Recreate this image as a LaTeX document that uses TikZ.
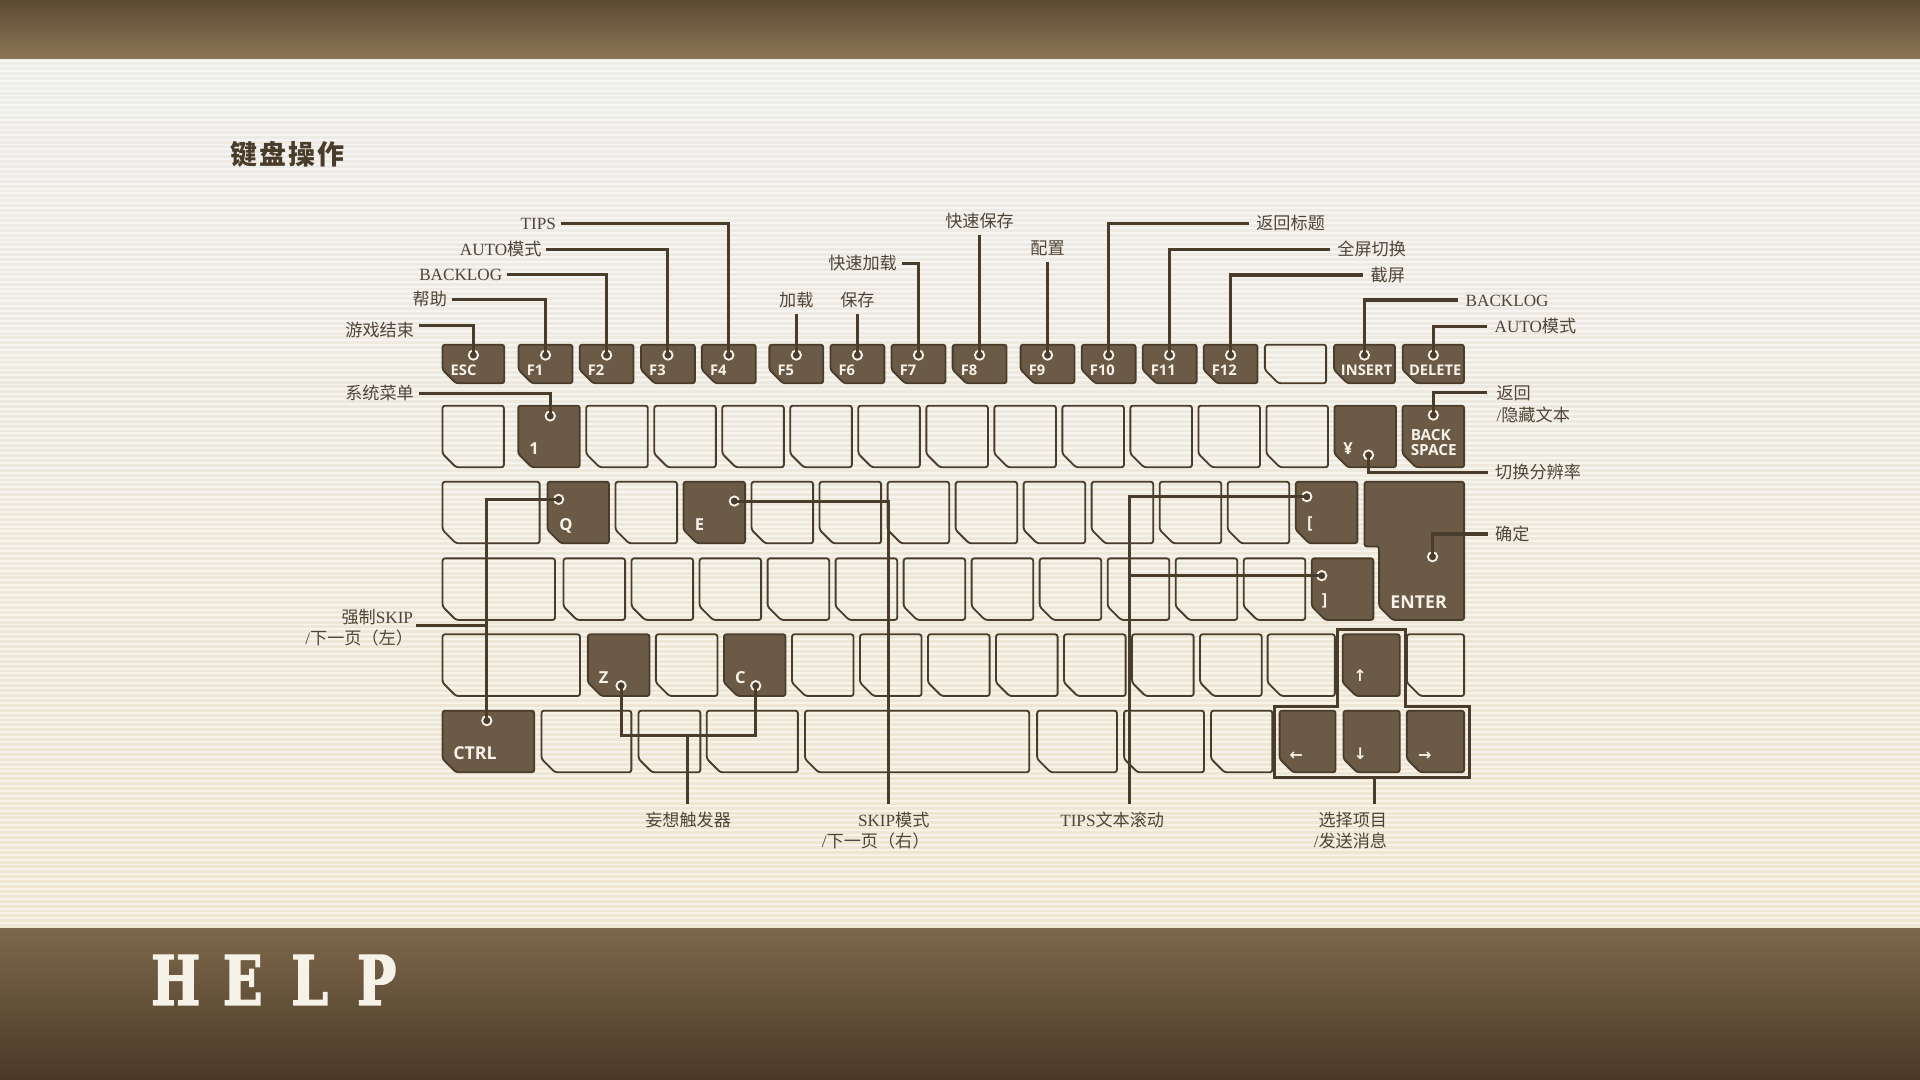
\documentclass[tikz,border=0pt]{standalone}
\usepackage{fontspec}
\setmainfont{Liberation Serif}
\newfontfamily\cjkfont{Noto Sans CJK SC}
\newfontfamily\titlefont{Noto Sans CJK SC}[LetterSpace=8]
\newfontfamily\keyfont{Open Sans}
\newfontfamily\arrowfont{DejaVu Sans}
\newfontfamily\helpfont{DejaVu Serif}[FakeStretch=0.76, BoldFeatures={FakeBold=2}]
\usetikzlibrary{positioning, calc, fit}
\definecolor{inkbrown}{HTML}{4A3C2B}
\definecolor{keybrown}{HTML}{6A5A46}
\definecolor{labelgray}{HTML}{4F4437}
\definecolor{keytext}{HTML}{F7F2E8}
\definecolor{papertop}{HTML}{EDECE8}
\definecolor{paperbot}{HTML}{EFE5D0}
\definecolor{banddark}{HTML}{5C4A33}
\definecolor{bandlight}{HTML}{8C7656}
\definecolor{bandmid}{HTML}{7C684B}
\definecolor{banddeep}{HTML}{4A3927}
\newcommand\zh[1]{{\cjkfont #1}}
\newcommand\lblsize{\fontsize{14}{17.5}\selectfont}
\newcommand\helpch[1]{\makebox[54.7pt]{#1}}
% key: style, name, x1, x2, y1, y2
\newcommand\kbkey[6]{%
  \coordinate (#2-a) at (#3,#5);
  \coordinate (#2-b) at (#4,#6);
  \node[keyfit, fit=(#2-a)(#2-b)] (#2) {};
  \draw[#1] (#2.north west) -- (#2.north east) -- (#2.south east)
    -- ([xshift=11pt]#2.south west) -- ([yshift=11pt]#2.south west) -- cycle;
}
\tikzset{
  keyfit/.style={rectangle, inner sep=0pt, outer sep=0pt, minimum size=0pt},
  keyline/.style={draw=inkbrown, line width=1.5pt, rounded corners=2pt},
  keydark/.style={keyline, fill=keybrown},
  ftxt/.style={font=\keyfont\bfseries\fontsize{12}{12}\selectfont, text=keytext,
               inner sep=0pt, anchor=base west},
  ktxt/.style={ftxt, font=\keyfont\bfseries\fontsize{13.5}{12}\selectfont},
  btxt/.style={ftxt, font=\keyfont\bfseries\fontsize{14.5}{12}\selectfont},
  atxt/.style={ftxt, font=\arrowfont\bfseries\fontsize{13}{12}\selectfont},
  conn/.style={draw=inkbrown, line width=2.5pt},
  dot/.style={circle, fill=inkbrown, draw=keytext, line width=1.5pt,
              minimum size=7.6pt, inner sep=0pt},
  stripe/.style={draw=white, opacity=0.55, line width=1.6pt},
  lbl/.style={font=\lblsize, text=labelgray, inner sep=2pt, text height=13pt, text depth=3pt},
  lbll/.style={lbl, anchor=east, outer xsep=2pt},
  lblr/.style={lbl, anchor=west, outer xsep=4pt},
  lblt/.style={lbl, anchor=south, outer ysep=1pt},
  lblm/.style={font=\lblsize, text=labelgray, inner sep=2pt},
  lblb/.style={lblm, anchor=north, outer ysep=4.5pt},
}
\begin{document}
\begin{tikzpicture}[x=1pt, y=-1pt]
  \useasboundingbox (0,0) rectangle (1568,882);
  % paper and bands
  \shade[top color=papertop, bottom color=paperbot] (0,48) rectangle (1568,758);
  \foreach \yy in {50,54,...,756}
    \draw[stripe] (0,\yy) -- (1568,\yy);
  \shade[top color=banddark, bottom color=bandlight] (0,0) rectangle (1568,48);
  \shade[top color=bandmid, bottom color=banddeep] (0,758) rectangle (1568,882);

  \node[font=\titlefont\bfseries\fontsize{22}{26}\selectfont, text=inkbrown, inner sep=0pt]
    (title) at (235,126) {键盘操作};
  \node[font=\helpfont\bfseries\fontsize{56}{56}\selectfont, text=keytext, inner sep=0pt,
        anchor=base] (help) at (225.6,820.7)
    {\helpch{H}\helpch{E}\helpch{L}\helpch{P}};

  % function row
  \kbkey{keydark}{esc}{361.4}{411.8}{281.5}{313}
  \node[ftxt] (esc-t) at ([xshift=6.5pt,yshift=6.5pt]esc.south west) {ESC};
  \coordinate (dESC) at ([yshift=-8.5pt]esc.north);
  \foreach \nm/\xa in {F1/423.5,F2/473.4,F3/523.5,F4/573.2,F5/628.3,F6/678.2,
                       F7/728.1,F8/778,F9/833.5,F10/883.4,F11/933.2,F12/983}{
    \pgfmathsetmacro\xb{\xa+44}
    \kbkey{keydark}{\nm}{\xa}{\xb}{281.5}{313}
    \node[ftxt] (\nm-t) at ([xshift=6.5pt,yshift=6.5pt]\nm.south west) {\nm};
    \coordinate (d\nm) at ([yshift=-8.5pt]\nm.north);
  }
  \kbkey{keyline}{fblank}{1033}{1083}{281.5}{313}
  \kbkey{keydark}{ins}{1089.4}{1139.2}{281.5}{313}
  \node[ftxt] (ins-t) at ([xshift=5.5pt,yshift=6.5pt]ins.south west) {INSERT};
  \coordinate (dINS) at ([yshift=-8.5pt]ins.north);
  \kbkey{keydark}{del}{1145.5}{1195.6}{281.5}{313}
  \node[ftxt] (del-t) at ([xshift=5pt,yshift=6.5pt]del.south west) {DELETE};
  \coordinate (dDEL) at ([yshift=-8.5pt]del.north);

  % number row
  \kbkey{keyline}{r1k0}{361.4}{411.5}{331.3}{381.6}
  \foreach \n in {2,...,12}{
    \pgfmathsetmacro\xa{423.2+(\n-1)*55.55}
    \pgfmathsetmacro\xb{\xa+50.3}
    \kbkey{keyline}{r1k\n}{\xa}{\xb}{331.3}{381.6}
  }
  \kbkey{keydark}{one}{423.2}{473.5}{331.3}{381.6}
  \node[ktxt] (one-t) at ([xshift=9pt,yshift=10.5pt]one.south west) {1};
  \coordinate (d1) at ([xshift=1pt,yshift=-8.4pt]one.north);
  \kbkey{keydark}{yen}{1089.8}{1140.1}{331.3}{381.6}
  \node[ktxt] (yen-t) at ([xshift=7pt,yshift=10.5pt]yen.south west) {¥};
  \coordinate (dYen) at ([xshift=-22.5pt,yshift=10pt]yen.south east);
  \kbkey{keydark}{bksp}{1145.4}{1195.7}{331.3}{381.6}
  \node[ftxt, anchor=south west, align=left, font=\keyfont\bfseries\fontsize{12.5}{12}\selectfont]
    (bksp-t) at ([xshift=6.5pt,yshift=9.5pt]bksp.south west) {BACK\\SPACE};
  \coordinate (dBS) at ([yshift=-7.7pt]bksp.north);

  % top letter row
  \kbkey{keyline}{tab}{361.4}{440.7}{393.4}{443.7}
  \foreach \n in {1,3,4,5,6,7,8,9,10}{
    \pgfmathsetmacro\xa{447.1+\n*55.55}
    \pgfmathsetmacro\xb{\xa+50.3}
    \kbkey{keyline}{r2k\n}{\xa}{\xb}{393.4}{443.7}
  }
  \kbkey{keydark}{kQ}{447.1}{497.4}{393.4}{443.7}
  \node[ktxt] (kQ-t) at ([xshift=9.5pt,yshift=10.5pt]kQ.south west) {Q};
  \coordinate (dQ) at ([xshift=9.1pt,yshift=-14.4pt]kQ.north west);
  \kbkey{keydark}{kE}{558.2}{608.5}{393.4}{443.7}
  \node[ktxt] (kE-t) at ([xshift=9pt,yshift=10.5pt]kE.south west) {E};
  \coordinate (dE) at ([xshift=-8.8pt,yshift=-15.8pt]kE.north east);
  \kbkey{keydark}{lbr}{1058.2}{1108.5}{393.4}{443.7}
  \node[ktxt] (lbr-t) at ([xshift=9pt,yshift=12pt]lbr.south west) {[};
  \coordinate (dLB) at ([xshift=9pt,yshift=-12.2pt]lbr.north west);
  % enter key
  \coordinate (enter-a) at (1114.3,393.4);
  \coordinate (enter-b) at (1195.7,506.3);
  \node[keyfit, fit=(enter-a)(enter-b)] (enter) {};
  \draw[keydark] (enter.north west) -- (enter.north east) -- (enter.south east)
    -- ([xshift=23pt]enter.south west) -- ([xshift=12pt,yshift=11pt]enter.south west)
    -- ([xshift=12pt,yshift=60pt]enter.south west) -- ([yshift=60pt]enter.south west) -- cycle;
  \node[btxt] (enter-t) at ([xshift=21pt,yshift=9.5pt]enter.south west) {ENTER};
  \coordinate (dEnt) at ([xshift=-25.8pt,yshift=-4.8pt]enter.east);

  % home row
  \kbkey{keyline}{caps}{361.4}{453.3}{456}{506.3}
  \foreach \n in {0,...,10}{
    \pgfmathsetmacro\xa{460.2+\n*55.55}
    \pgfmathsetmacro\xb{\xa+50.3}
    \kbkey{keyline}{r3k\n}{\xa}{\xb}{456}{506.3}
  }
  \kbkey{keydark}{rbr}{1071.3}{1121.6}{456}{506.3}
  \node[ktxt] (rbr-t) at ([xshift=8pt,yshift=12pt]rbr.south west) {]};
  \coordinate (dRB) at ([xshift=8.1pt,yshift=-14.1pt]rbr.north west);

  % bottom letter row
  \kbkey{keyline}{kshift}{361.4}{473.7}{518}{568.4}
  \foreach \n in {1,3,4,5,6,7,8,9}{
    \pgfmathsetmacro\xa{480.1+\n*55.55}
    \pgfmathsetmacro\xb{\xa+50.3}
    \kbkey{keyline}{r4k\n}{\xa}{\xb}{518}{568.4}
  }
  \kbkey{keydark}{kZ}{480.1}{530.4}{518}{568.4}
  \node[ktxt] (kZ-t) at ([xshift=8.7pt,yshift=10.5pt]kZ.south west) {Z};
  \coordinate (dZ) at ([xshift=27.1pt,yshift=8.4pt]kZ.south west);
  \kbkey{keydark}{kC}{591.2}{641.5}{518}{568.4}
  \node[ktxt] (kC-t) at ([xshift=9pt,yshift=10.5pt]kC.south west) {C};
  \coordinate (dC) at ([xshift=26pt,yshift=8.4pt]kC.south west);
  \kbkey{keyline}{r4a}{1035.2}{1090.1}{518}{568.4}
  \kbkey{keydark}{kup}{1096.5}{1143.1}{518}{568.4}
  \node[atxt] (kup-t) at ([xshift=8.5pt,yshift=12pt]kup.south west) {↑};
  \kbkey{keyline}{r4b}{1148.9}{1195.7}{518}{568.4}

  % space row
  \kbkey{keydark}{ctrl}{361.4}{436.3}{580.4}{630.7}
  \node[btxt] (ctrl-t) at ([xshift=8.6pt,yshift=10.5pt]ctrl.south west) {CTRL};
  \coordinate (dCtrl) at ([xshift=-1.3pt,yshift=-8.1pt]ctrl.north);
  \foreach \nm/\xa/\xb in {r5a/442.2/515.6, r5b/521.5/572, r5c/577.2/651.6,
                           kspace/657.4/840.5, r5d/847/912.2, r5e/918/983.3, r5f/989/1039.1}{
    \kbkey{keyline}{\nm}{\xa}{\xb}{580.4}{630.7}
  }
  \kbkey{keydark}{kleft}{1045}{1090.7}{580.4}{630.7}
  \node[atxt] (kleft-t) at ([xshift=8pt,yshift=9.5pt]kleft.south west) {←};
  \kbkey{keydark}{kdown}{1097.2}{1143.1}{580.4}{630.7}
  \node[atxt] (kdown-t) at ([xshift=8pt,yshift=10.5pt]kdown.south west) {↓};
  \kbkey{keydark}{kright}{1148.9}{1195.7}{580.4}{630.7}
  \node[atxt] (kright-t) at ([xshift=9pt,yshift=9.5pt]kright.south west) {→};

  % arrow cluster frame
  \draw[draw=inkbrown, line width=2.5pt] (1092.4,514) -- (1147.9,514) -- (1147.9,576.6)
    -- (1199.9,576.6) -- (1199.9,634.8) -- (1040.8,634.8) -- (1040.8,576.6)
    -- (1092.4,576.6) -- cycle;
  \coordinate (agrp) at ([xshift=2.2pt,yshift=-4.1pt]kdown.south);

  % labels
  \node[lbll] (tipsl) at (458,182.4) {TIPS};
  \node[lbll] (autol) at (446.2,203.4) {AUTO\zh{模式}};
  \node[lbll] (backlogl) at (414.1,223.8) {BACKLOG};
  \node[lbll] (helpl) at (369,244.5) {\zh{帮助}};
  \node[lbll] (quitl) at (342.1,270) {\zh{游戏结束}};
  \node[lbll] (menul) at (342,321.2) {\zh{系统菜单}};
  \node[lblt] (loadl) at (dF5 |- 0,256.4) {\zh{加载}};
  \node[lblt] (savel) at (dF6 |- 0,256.4) {\zh{保存}};
  \node[lbll] (qloadl) at (736.4,215) {\zh{快速加载}};
  \node[lblt] (qsavel) at (dF8 |- 0,191.9) {\zh{快速保存}};
  \node[lblt] (confl) at (dF9 |- 0,213.7) {\zh{配置}};
  \node[lblr] (rtitlel) at (1020,182.4) {\zh{返回标题}};
  \node[lblr] (fulll) at (1086.2,203.6) {\zh{全屏切换}};
  \node[lblr] (shotl) at (1113.4,224.6) {\zh{截屏}};
  \node[lblr] (backlog2l) at (1191,245) {BACKLOG};
  \node[lblr] (auto2l) at (1214.6,266.8) {AUTO\zh{模式}};
  \coordinate (hide-in) at (1214.6,320.7);
  \node[lblm, anchor=north west, align=left, font=\fontsize{14}{18}\selectfont] (hidel)
    at ([xshift=5.4pt,yshift=8.5pt]hide-in) {\zh{返回}\\/\zh{隐藏文本}};
  \node[lblr] (resl) at (1215.1,386) {\zh{切换分辨率}};
  \node[lblr] (okl) at (1215,436.1) {\zh{确定}};
  \node[lblm, anchor=east, align=right] (skipll) at (339.5,512.5)
    {\zh{强制}SKIP\\/\zh{下一页（左）}};
  \coordinate (trig-bar) at ([yshift=-40.3pt]dZ -| 561.3,0);
  \node[lblb] (trigl) at (562,656.6) {\zh{妄想触发器}};
  \coordinate (skipr-in) at (725.3,656.6);
  \node[lblb, anchor=north east, align=right] (skiprl) at ([xshift=36pt]skipr-in)
    {SKIP\zh{模式}\\/\zh{下一页（右）}};
  \coordinate (tipsr-in) at (922.5,656.6);
  \node[lblb] (tipsrl) at ([xshift=-14.2pt]tipsr-in) {TIPS\zh{文本滚动}};
  \node[lblb, anchor=north east, align=right] (sell) at (1135,656.6)
    {\zh{选择项目}\\/\zh{发送消息}};

  % connector dots, under the lines
  \foreach \d in {dESC,dF1,dF2,dF3,dF4,dF5,dF6,dF7,dF8,dF9,dF10,dF11,dF12,dINS,dDEL,
                  d1,dBS,dYen,dQ,dE,dLB,dRB,dEnt,dZ,dC,dCtrl}
    \node[dot] (\d-o) at (\d) {};

  % connectors
  \draw[conn] (tipsl.east) -| (dF4);
  \draw[conn] (autol.east) -| (dF3);
  \draw[conn] (backlogl.east) -| (dF2);
  \draw[conn] (helpl.east) -| (dF1);
  \draw[conn] ([yshift=4pt]quitl.east) -| (dESC);
  \draw[conn] (menul.east) -| (d1);
  \draw[conn] (dF5) -- (dF5 |- loadl.south);
  \draw[conn] (dF6) -- (dF6 |- savel.south);
  \draw[conn] (qloadl.east) -| (dF7);
  \draw[conn] (dF8) -- (dF8 |- qsavel.south);
  \draw[conn] (dF9) -- (dF9 |- confl.south);
  \draw[conn] (dF10) |- (rtitlel.west);
  \draw[conn] (dF11) |- (fulll.west);
  \draw[conn] (dF12) |- (shotl.west);
  \draw[conn] (dINS) |- (backlog2l.west);
  \draw[conn] (dDEL) |- (auto2l.west);
  \draw[conn] (dBS) |- (hide-in);
  \draw[conn] (dYen) |- (resl.west);
  \draw[conn] (dEnt) |- (okl.west);
  \draw[conn] (dQ) -| (dCtrl) ([yshift=2pt]skipll.east) -| (dCtrl);
  \draw[conn] (dE) -| (skipr-in);
  \draw[conn] (dLB) -| (tipsr-in) (dRB) -| (tipsr-in);
  \draw[conn] (dZ) |- (trig-bar) -| (dC) (trig-bar) -- (trig-bar |- trigl.north);
  \draw[conn] (agrp) -- (agrp |- sell.north);
\end{tikzpicture}
\end{document}
